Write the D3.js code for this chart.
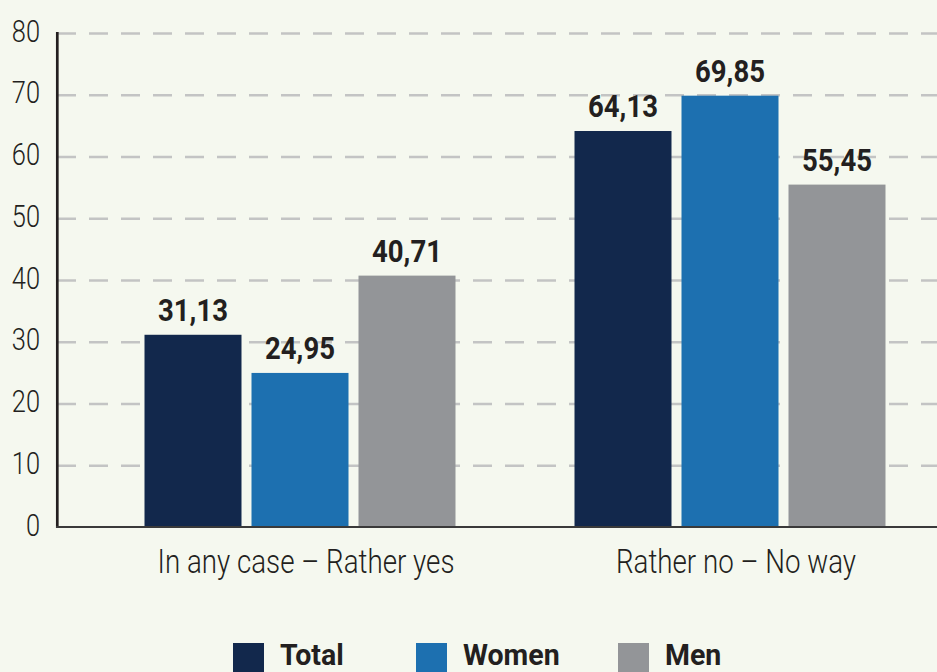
<!DOCTYPE html>
<html>
<head>
<meta charset="utf-8">
<script src="https://cdn.jsdelivr.net/npm/d3@7"></script>
<style>
  html, body { margin: 0; padding: 0; background: #f5f8ef; }
  svg { display: block; }
  .thin { font-family: Roboto, "Open Sans", sans-serif; font-weight: 300; fill: #231f20; }
  .bold { font-family: Roboto, "Open Sans", sans-serif; font-weight: 700; fill: #231f20; }
</style>
</head>
<body>
<div class="chart"></div>
<script>
// Data
const categories = ['In any case – Rather yes', 'Rather no – No way'];
const seriesNames = ['Total', 'Women', 'Men'];
const totalValues = [31.13, 64.13];
const womenValues = [24.95, 69.85];
const menValues = [40.71, 55.45];
const yTicks = [0, 10, 20, 30, 40, 50, 60, 70, 80];
const colors = ['#12284c', '#1d70b0', '#939598'];

const seriesValues = [totalValues, womenValues, menValues];
const fmt = v => d3.format('.2f')(v).replace('.', ',');

// squeeze text to mimic the condensed font of the original
function condense(sel, ratio) {
  sel.each(function() {
    const w = this.getComputedTextLength();
    d3.select(this).attr('textLength', w * ratio).attr('lengthAdjust', 'spacingAndGlyphs');
  });
}

const width = 937, height = 672;
const svg = d3.select('.chart').append('svg')
  .attr('width', width).attr('height', height);

svg.append('rect').attr('width', width).attr('height', height).attr('fill', '#f5f8ef');

const y = d3.scaleLinear().domain([0, 80]).range([527, 33]);
const x0 = d3.scaleBand().domain(categories).range([85, 945]);
const x1 = d3.scaleBand().domain(seriesNames).range([59.5, 370.5]).paddingInner(0.0935);

// gridlines
const grid = svg.append('g').attr('transform', 'translate(57,0)')
  .call(d3.axisLeft(y).tickValues(yTicks.slice(1)).tickSize(-880).tickFormat(''));
grid.select('.domain').remove();
grid.selectAll('line')
  .attr('stroke', '#c3c4c4').attr('stroke-width', 2.7).attr('stroke-dasharray', '19,13');

// y labels
const yAxis = svg.append('g').attr('transform', 'translate(40,0)')
  .call(d3.axisLeft(y).tickValues(yTicks).tickSize(0).tickPadding(0));
yAxis.select('.domain').remove();
yAxis.selectAll('text').attr('class', 'thin').attr('font-size', 31).attr('dy', 8)
  .call(condense, 0.82);

// bars
const groups = svg.selectAll('.group').data(categories).enter().append('g')
  .attr('class', 'group')
  .attr('transform', d => `translate(${x0(d)},0)`);

groups.each(function(cat, ci) {
  const g = d3.select(this);
  const rows = seriesNames.map((s, si) => ({ s, si, v: seriesValues[si][ci] }));
  g.selectAll('rect').data(rows).enter().append('rect')
    .attr('x', d => x1(d.s)).attr('y', d => y(d.v))
    .attr('width', x1.bandwidth()).attr('height', d => y(0) - y(d.v))
    .attr('fill', d => colors[d.si]);
  g.selectAll('.lbl').data(rows).enter().append('text')
    .attr('class', 'bold lbl')
    .attr('x', d => x1(d.s) + x1.bandwidth() / 2).attr('y', d => y(d.v) - 14)
    .attr('text-anchor', 'middle').attr('font-size', 32)
    .text(d => fmt(d.v))
    .call(condense, 0.86);
});

// axes lines
svg.append('line').attr('x1', 57.3).attr('x2', 57.3).attr('y1', 32).attr('y2', 528)
  .attr('stroke', '#231f20').attr('stroke-width', 2.7);
svg.append('line').attr('x1', 56).attr('x2', width).attr('y1', 527).attr('y2', 527)
  .attr('stroke', '#3a3a3a').attr('stroke-width', 2.2);

// category labels
svg.selectAll('.cat').data(categories).enter().append('text')
  .attr('class', 'thin cat')
  .attr('x', d => x0(d) + x0.bandwidth() / 2 + 6).attr('y', 573)
  .attr('text-anchor', 'middle').attr('font-size', 33)
  .text(d => d)
  .call(condense, 0.84);

// legend
const legendX = [233, 416, 618];
const legend = svg.selectAll('.leg').data(seriesNames).enter().append('g')
  .attr('transform', (d, i) => `translate(${legendX[i]},643)`);
legend.append('rect').attr('width', 31).attr('height', 40).attr('fill', (d, i) => colors[i]);
legend.append('text').attr('class', 'bold').attr('x', 47).attr('y', 22)
  .attr('font-size', 30).text(d => d)
  .call(condense, 0.95);
</script>
</body>
</html>
